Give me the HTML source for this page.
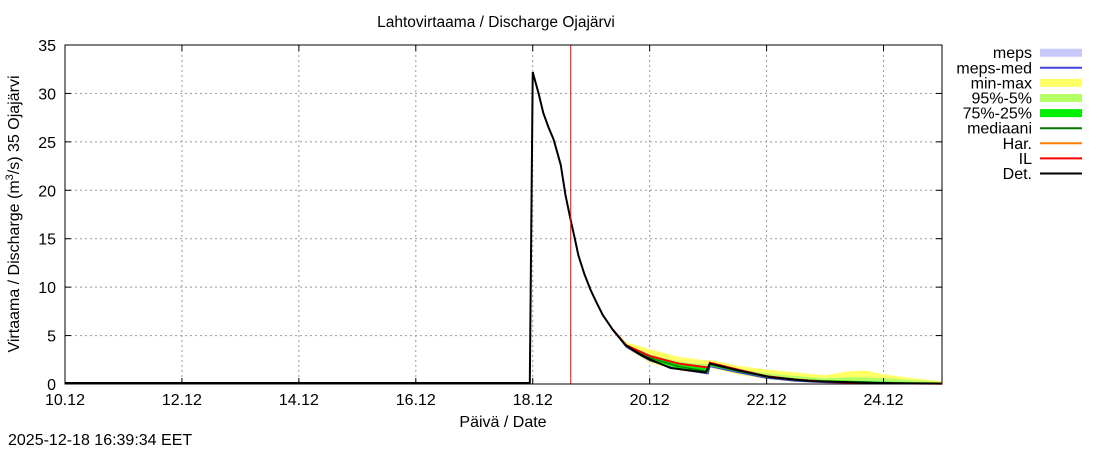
<!DOCTYPE html>
<html><head><meta charset="utf-8">
<style>
body{margin:0;background:#fff;}
svg{display:block;font-family:"Liberation Sans",sans-serif;}
</style></head>
<body>
<svg id="chart" width="1100" height="450" viewBox="0 0 1100 450">
<rect x="0" y="0" width="1100" height="450" fill="#fff"/>
<g id="grid"></g>
<g id="bands"></g>
<g id="lines"></g>
<g id="axes"></g>
<g id="legend"></g>
<text x="496" y="27" font-size="15.5" text-anchor="middle">Lahtovirtaama / Discharge  Ojajärvi</text>
<text x="503" y="427" font-size="16" text-anchor="middle">Päivä / Date</text>
<text transform="translate(19,214) rotate(-90)" font-size="16" text-anchor="middle">Virtaama / Discharge (m<tspan dy="-6" font-size="11">3</tspan><tspan dy="6">/s)  35 Ojajärvi</tspan></text>
<text x="8" y="445" font-size="16">2025-12-18 16:39:34 EET</text>
</svg>
<script>
// days since 10.12
const xTickLabels = ["10.12","12.12","14.12","16.12","18.12","20.12","22.12","24.12"];
const xTickDays = [0,2,4,6,8,10,12,14];
const yTicks = [0,5,10,15,20,25,30,35];
const detDays = [0,7.95,8.0,8.1,8.18,8.27,8.36,8.48,8.56,8.65,8.72,8.78,8.88,8.99,9.1,9.2,9.37,9.59,9.85,10.02,10.36,10.96,11.03,11.56,12.07,12.76,13.96,14.98];
const detVals = [0.1,0.1,32.2,30.0,28.0,26.5,25.2,22.6,19.5,16.9,15.0,13.3,11.4,9.7,8.3,7.1,5.6,4.0,3.0,2.5,1.65,1.2,2.1,1.35,0.7,0.3,0.1,0.05];
const bandDays = [9.37,9.6,10.0,10.5,11.0,11.03,11.5,12.0,12.5,13.0,13.4,13.7,14.0,14.5,15.0];
const maxVals =  [5.7,4.3,3.6,2.8,2.4,2.5,1.9,1.5,1.2,0.9,1.3,1.4,1.0,0.6,0.3];
const p95Vals =  [5.65,4.1,3.1,2.3,2.0,2.3,1.6,1.1,0.8,0.6,0.7,0.7,0.6,0.4,0.2];
const p75Vals =  [5.6,4.0,2.9,2.0,1.6,2.2,1.5,0.9,0.55,0.4,0.35,0.3,0.25,0.15,0.1];
const p25Vals =  [5.55,3.8,2.5,1.6,1.1,1.9,1.2,0.6,0.3,0.15,0.1,0.1,0.05,0.05,0.0];
const minVals =  [5.5,3.7,2.2,1.4,1.0,1.7,1.0,0.5,0.2,0.1,0.05,0.05,0.0,0.0,0.0];
const medVals =  [5.6,3.9,2.7,1.8,1.3,2.05,1.35,0.75,0.4,0.25,0.2,0.15,0.1,0.08,0.05];
const ilVals =   [5.6,4.0,2.9,2.1,1.7,2.2,1.5,0.8,0.45,0.25,0.15,0.1,0.08,0.05,0.03];
const mepsVals = [5.55,3.8,2.4,1.5,1.05,1.8,1.2,0.6,0.3,0.15,0.1,0.08,0.05,0.03,0.02];
const cutDay = 8.65;

const X0=65,X1=942,Y0=384,Y1=45;
const sx=d=>X0+d*(X1-X0)/15;
const sy=v=>Y0-v*(Y0-Y1)/35;
const NS="http://www.w3.org/2000/svg";
function mk(tag,attrs,parent){const e=document.createElementNS(NS,tag);for(const k in attrs)e.setAttribute(k,attrs[k]);document.getElementById(parent).appendChild(e);return e;}
xTickDays.forEach((d,i)=>{
  if(i>0){const g=mk('line',{x1:sx(d),x2:sx(d),y1:Y1,y2:Y0,stroke:'#999','stroke-dasharray':'2,3'},'grid');
  
  }
  const t=mk('text',{x:sx(d),y:405,'font-size':16,'text-anchor':'middle'},'axes');t.textContent=xTickLabels[i];
  
  
  mk('line',{x1:sx(d),x2:sx(d),y1:Y0,y2:Y0-6,stroke:'#000'},'axes');
  mk('line',{x1:sx(d),x2:sx(d),y1:Y1,y2:Y1+6,stroke:'#000'},'axes');
});
yTicks.forEach(v=>{
  if(v>0&&v<35){const g=mk('line',{x1:X0,x2:X1,y1:sy(v),y2:sy(v),stroke:'#999','stroke-dasharray':'2,3'},'grid');
  
  }
  const t=mk('text',{x:56,y:sy(v)+6,'font-size':16,'text-anchor':'end'},'axes');t.textContent=v;
  
  
  mk('line',{x1:X0,x2:X0+6,y1:sy(v),y2:sy(v),stroke:'#000'},'axes');
  mk('line',{x1:X1,x2:X1-6,y1:sy(v),y2:sy(v),stroke:'#000'},'axes');
});
const frame=mk('rect',{x:X0,y:Y1,width:X1-X0,height:Y0-Y1,fill:'none',stroke:'#000'},'axes');


function band(up,lo,color,name){
  let p=bandDays.map((d,i)=>sx(d)+','+sy(up[i])).join(' ');
  p+=' '+bandDays.map((d,i)=>sx(d)+','+sy(lo[i])).reverse().join(' ');
  const e=mk('polygon',{points:p,fill:color},'bands');
  
  
}
band(maxVals,minVals,'#ffff66','min-max-band');
band(p95Vals,p25Vals,'#b3ff66','p95-p5-band');
band(p75Vals,p25Vals,'#00ee00','p75-p25-band');
function line(days,vals,color,w,name){
  const e=mk('polyline',{points:days.map((d,i)=>sx(d)+','+sy(vals[i])).join(' '),fill:'none',stroke:color,'stroke-width':w},'lines');
  
  
}
line(bandDays,mepsVals,'#4444dd',1.2,'meps-med-line');
line(bandDays,medVals,'#007700',1.2,'median-line');
line(bandDays,ilVals,'#ff0000',2,'il-line');
line(detDays,detVals,'#000',2,'det-line');
const cut=mk('line',{x1:sx(cutDay),x2:sx(cutDay),y1:Y1,y2:Y0,stroke:'#ff0000','stroke-width':1},'lines');


const legNames=["meps","meps-med","min-max","95%-5%","75%-25%","mediaani","Har.","IL","Det."];
const legColors=["#c8c8f8","#4444dd","#ffff66","#b3ff66","#00ee00","#007700","#ff8000","#ff0000","#000000"];
const legW=[8,2,8,8,8,2,2,2,2];
legNames.forEach((n,i)=>{
  const y=52.7+i*15.1;
  const t=mk('text',{x:1032,y:y+5.5,'font-size':16,'text-anchor':'end'},'legend');t.textContent=n;
  
  
  const s=mk('line',{x1:1040,x2:1082,y1:y,y2:y,stroke:legColors[i],'stroke-width':legW[i]},'legend');
  
  
});
</script>
</body></html>
